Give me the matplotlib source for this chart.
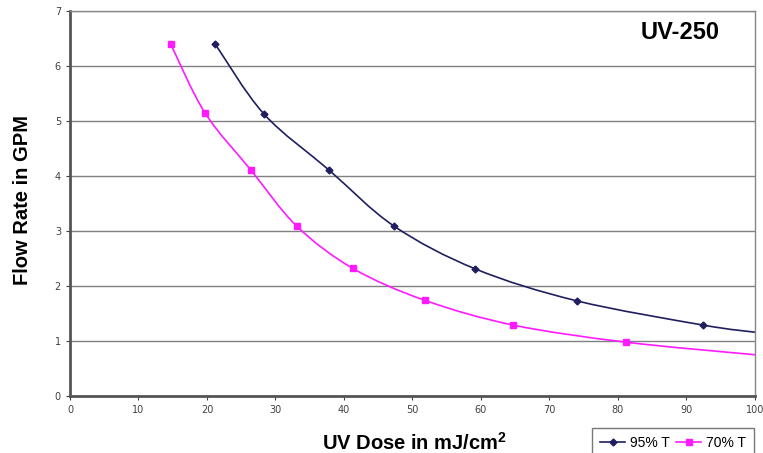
import matplotlib.pyplot as plt
from matplotlib.path import Path
from matplotlib.patches import PathPatch
import numpy as np

plt.rcParams['mathtext.fontset'] = 'custom'
plt.rcParams['mathtext.bf'] = 'Liberation Sans:bold'
plt.rcParams['mathtext.rm'] = 'Liberation Sans'

# UV dose (mJ/cm2) vs flow rate (GPM)
dose_95 = [21.2, 28.3, 37.8, 47.3, 59.2, 74.0, 92.4, 100.0]
flow_95 = [6.40, 5.13, 4.11, 3.09, 2.31, 1.73, 1.29, 1.16]
dose_70 = [14.7, 19.7, 26.4, 33.1, 41.3, 51.8, 64.7, 81.1, 100.0]
flow_70 = [6.40, 5.15, 4.11, 3.09, 2.32, 1.74, 1.29, 0.98, 0.75]

navy = '#1f1f5f'
pink = '#ff1aff'


def smooth_path(x, y):
    # excel-style smoothed line: bezier segments through the points
    p = np.column_stack([x, y])
    verts = [p[0]]
    codes = [Path.MOVETO]
    n = len(p)
    for i in range(n - 1):
        p0 = p[i - 1] if i > 0 else p[i]
        p3 = p[i + 2] if i + 2 < n else p[i + 1]
        c1 = p[i] + (p[i + 1] - p0) / 6
        c2 = p[i + 1] - (p3 - p[i]) / 6
        verts += [c1, c2, p[i + 1]]
        codes += [Path.CURVE4] * 3
    return Path(verts, codes)


fig = plt.figure(figsize=(7.63, 4.53), dpi=100)
ax = fig.add_axes([0.0917, 0.1258, 0.8978, 0.8499])

# lines run to the axis edge, markers only on the measured points
ax.add_patch(PathPatch(smooth_path(dose_95, flow_95), fill=False, edgecolor=navy, lw=1.2))
ax.plot(dose_95[:-1], flow_95[:-1], 'D', color=navy, ms=3.5, ls='none')
ax.add_patch(PathPatch(smooth_path(dose_70, flow_70), fill=False, edgecolor=pink, lw=1.2))
ax.plot(dose_70[:-1], flow_70[:-1], 's', color=pink, ms=4, ls='none')

ax.set_xlim(0, 100)
ax.set_ylim(0, 7)
ax.set_xticks(np.arange(0, 101, 10))
ax.set_yticks(np.arange(0, 8, 1))
ax.grid(axis='y', color='#808080', lw=1)
ax.set_axisbelow(True)
ax.tick_params(labelsize=7, colors='#404040', length=3)
for s in ['left', 'bottom']:
    ax.spines[s].set_color('#555555')
    ax.spines[s].set_linewidth(2)
for s in ['top', 'right']:
    ax.spines[s].set_color('#888888')
    ax.spines[s].set_linewidth(1)

ax.text(0.949, 0.945, 'UV-250', transform=ax.transAxes, ha='right', va='center',
        fontsize=17, fontweight='bold', family='Liberation Sans')

fig.text(0.543, 0.022, 'UV Dose in mJ/cm$\\mathbf{^2}$', ha='center', va='center',
         fontsize=14.5, fontweight='bold', family='Liberation Sans')
fig.text(0.029, 0.558, 'Flow Rate in GPM', ha='center', va='center', rotation=90,
         fontsize=14.5, fontweight='bold', family='Liberation Sans')

h1, = ax.plot([], [], color=navy, marker='D', ms=3.5, lw=1.2)
h2, = ax.plot([], [], color=pink, marker='s', ms=4, lw=1.2)
leg = fig.legend([h1, h2], ['95% T', '70% T'], loc='upper left',
                 bbox_to_anchor=(0.776, 0.056), ncol=2, fancybox=False,
                 edgecolor='#555555', handlelength=1.8, borderaxespad=0,
                 columnspacing=0.5, handletextpad=0.3, borderpad=0.6,
                 prop={'family': 'Liberation Sans', 'size': 10})
leg.get_frame().set_linewidth(1)

fig.savefig('out.png', dpi=100)
